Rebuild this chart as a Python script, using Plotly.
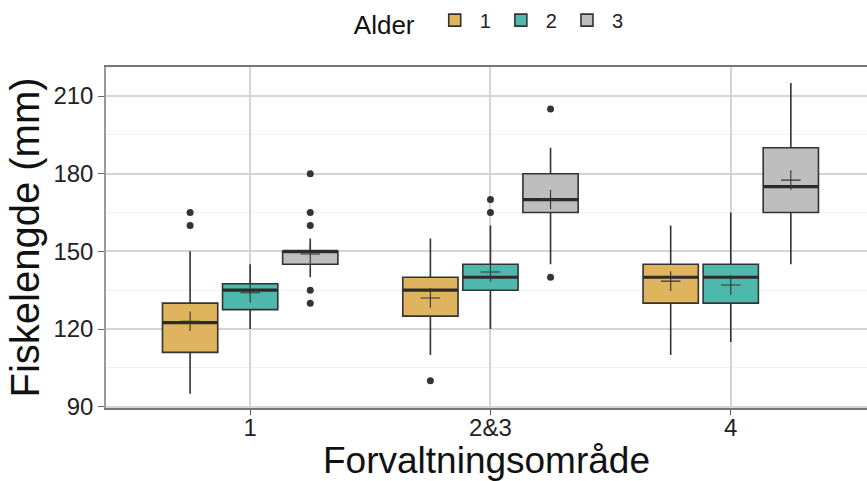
import plotly.graph_objects as go

categories = ["1", "2&3", "4"]
ages = ["1", "2", "3"]
colors = ["#E0B35E", "#4FB8AD", "#BEBEBE"]

q1 = {"1": [111, 125, 130], "2": [127.5, 135, 130], "3": [145, 165, 165]}
median = {"1": [122.5, 135, 140], "2": [135, 140, 140], "3": [150, 170, 175]}
q3 = {"1": [130, 140, 145], "2": [137.5, 145, 145], "3": [150, 180, 190]}
lower = {"1": [95, 110, 110], "2": [120, 120, 115], "3": [140, 145, 145]}
upper = {"1": [150, 155, 160], "2": [145, 160, 165], "3": [155, 190, 215]}
mean = {"1": [123, 132, 138.5], "2": [134, 142, 137], "3": [149, 170, 177.5]}
outliers = {
    "1": [[160, 165], [100], []],
    "2": [[], [165, 170], []],
    "3": [[130, 135, 160, 165, 180], [140, 205], []],
}

dodge = 0.25
box_w = 0.23
FONT = "Liberation Sans, Arial, sans-serif"

fig = go.Figure()
for ai, age in enumerate(ages):
    off = (ai - 1) * dodge
    pos = [ci + 1 + off for ci in range(len(categories))]
    fig.add_trace(go.Box(
        x=pos, q1=q1[age], median=median[age], q3=q3[age],
        lowerfence=lower[age], upperfence=upper[age],
        width=box_w, whiskerwidth=0,
        fillcolor=colors[ai], line=dict(color="#333333", width=1.6),
        name=age, legendgroup=age, boxpoints=False, hoverinfo="skip",
    ))
    mx, my = [], []
    for p, m in zip(pos, median[age]):
        mx += [p - box_w / 2, p + box_w / 2, None]
        my += [m, m, None]
    fig.add_trace(go.Scatter(x=mx, y=my, mode="lines",
                             line=dict(color="#2b2b2b", width=3.2),
                             showlegend=False, legendgroup=age, hoverinfo="skip"))
    ox, oy = [], []
    for p, outs in zip(pos, outliers[age]):
        for v in outs:
            ox.append(p)
            oy.append(v)
    fig.add_trace(go.Scatter(x=ox, y=oy, mode="markers",
                             marker=dict(color="#333333", size=7),
                             showlegend=False, legendgroup=age, hoverinfo="skip"))
    fig.add_trace(go.Scatter(x=pos, y=mean[age], mode="markers",
                             marker=dict(symbol="cross-thin", size=14,
                                         line=dict(color="#333333", width=1.1)),
                             showlegend=False, legendgroup=age, hoverinfo="skip"))

fig.update_layout(
    width=867, height=481,
    margin=dict(l=106, r=0, t=67, b=73, autoexpand=False),
    paper_bgcolor="white", plot_bgcolor="white",
    boxmode="overlay",
    font=dict(family=FONT, color="#1a1a1a"),
    showlegend=True,
    legend=dict(
        orientation="h", x=0.323, xanchor="left", y=1.13, yanchor="middle",
        title=dict(text="Alder ", font=dict(size=26, family=FONT, color="#111")),
        font=dict(size=20, family=FONT, color="#222"),
        itemwidth=40, traceorder="normal",
    ),
)
fig.update_xaxes(
    range=[0.4, 3.567], automargin=False,
    tickmode="array", tickvals=[1, 2, 3], ticktext=categories,
    tickfont=dict(size=24, family=FONT, color="#222"),
    ticks="outside", ticklen=5, tickcolor="#666",
    ticklabelstandoff=-8,
    showgrid=True, gridcolor="#D4D4D4", gridwidth=1.5,
    showline=True, linecolor="#777777", linewidth=2, mirror=True,
    zeroline=False,
    title=dict(text="Forvaltningsområde", font=dict(size=37, family=FONT, color="#111"),
               standoff=4),
)
fig.update_yaxes(
    range=[89.5, 221.2], automargin=False,
    tickmode="array", tickvals=[90, 120, 150, 180, 210],
    tickfont=dict(size=24, family=FONT, color="#222"),
    ticks="outside", ticklen=6, tickcolor="#666",
    showgrid=True, gridcolor="#D4D4D4", gridwidth=1.5,
    minor=dict(tickvals=[105, 135, 165, 195], showgrid=True, gridcolor="#F2F2F2", gridwidth=1),
    showline=True, linecolor="#999999", linewidth=1.5, mirror=True,
    zeroline=False,
    title=dict(text="Fiskelengde (mm)", font=dict(size=40, family=FONT, color="#111"),
               standoff=1),
)

fig.write_html("out.html", config={"displayModeBar": False})
with open("out.html", "r", encoding="utf-8") as f:
    html = f.read()
html = html.replace("<head>", "<head><style>html,body{margin:0;padding:0;overflow:hidden;}</style>", 1)
with open("out.html", "w", encoding="utf-8") as f:
    f.write(html)
